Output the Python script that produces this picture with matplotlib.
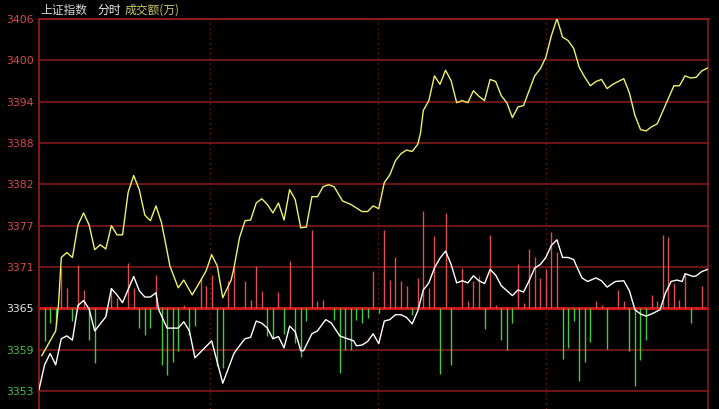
import numpy as np
import matplotlib
matplotlib.use("Agg")
import matplotlib.pyplot as plt

plt.rcParams['font.family'] = ['Noto Sans CJK SC', 'DejaVu Sans']

# grid levels (price) and their labels
prev_close = 3365.0
step = 5.85
grid_labels = ["3353", "3359", "3365", "3371", "3377", "3382", "3388", "3394", "3400", "3406"]

# index line (yellow): minute, price
idx_min = [1, 6, 7, 8, 10, 12, 14, 16, 18, 20, 22, 24, 26, 28, 30, 32, 34, 36, 38, 40,
           42, 44, 46, 47, 50, 52, 55, 58, 60, 62, 64, 66, 69, 70, 72, 74, 76, 78, 80, 82,
           84, 86, 88, 90, 92, 94, 96, 98, 100, 102, 104, 106, 109, 112, 114, 116, 118, 120, 122, 124,
           126, 128, 130, 132, 134, 136, 137, 138, 140, 142, 144, 146, 148, 150, 152, 154, 156, 158, 160, 162,
           164, 166, 168, 170, 172, 174, 176, 178, 180, 182, 184, 186, 188, 190, 192, 194, 196, 198, 200, 202,
           204, 206, 210, 212, 214, 216, 218, 220, 222, 225, 228, 230, 232, 234, 236, 238, 240]
idx_val = [3358.3, 3361.8, 3365.5, 3372.2, 3372.9, 3372.2, 3376.8, 3378.5, 3376.8, 3373.3,
           3374.0, 3373.4, 3376.7, 3375.4, 3375.4, 3381.4, 3383.8, 3381.8, 3378.2, 3377.4,
           3379.5, 3377.1, 3373.1, 3371.0, 3367.9, 3369.0, 3366.9, 3368.9, 3370.3, 3372.6,
           3371.0, 3366.5, 3369.0, 3370.7, 3375.0, 3377.4, 3377.5, 3379.9, 3380.5, 3379.7,
           3378.5, 3379.9, 3377.5, 3381.8, 3380.4, 3376.4, 3376.5, 3380.8, 3380.8, 3382.2,
           3382.5, 3382.2, 3380.2, 3379.7, 3379.2, 3378.7, 3378.7, 3379.5, 3379.1, 3382.8,
           3383.9, 3385.9, 3386.9, 3387.4, 3387.2, 3388.2, 3389.8, 3393.0, 3394.4, 3397.9,
           3396.7, 3398.7, 3397.2, 3394.1, 3394.4, 3394.1, 3395.8, 3395.0, 3394.4, 3397.4,
           3397.1, 3395.1, 3394.1, 3392.0, 3393.5, 3393.7, 3395.8, 3397.9, 3398.9, 3400.5,
           3403.6, 3406.0, 3403.4, 3402.9, 3401.8, 3399.1, 3397.7, 3396.5, 3397.1, 3397.4,
           3396.1, 3396.7, 3397.5, 3395.5, 3392.3, 3390.3, 3390.1, 3390.7, 3391.1, 3393.8,
           3396.5, 3396.5, 3397.9, 3397.6, 3397.7, 3398.6, 3399.0]

# average line (white): minute, price
avg_min = [0, 2, 4, 6, 8, 10, 12, 14, 16, 18, 20, 24, 26, 28, 30, 34, 36, 38, 40, 42,
           43, 46, 50, 52, 54, 56, 62, 66, 70, 72, 74, 76, 78, 80, 82, 84, 86, 88, 90, 92,
           94, 95, 98, 100, 102, 103, 105, 108, 110, 113, 114, 116, 118, 120, 122, 124, 126, 128, 130, 132,
           134, 136, 138, 140, 142, 144, 146, 148, 150, 152, 154, 156, 158, 160, 162, 164, 166, 168, 170, 172,
           174, 176, 178, 180, 182, 184, 186, 188, 190, 192, 193, 195, 197, 200, 202, 204, 207, 210, 212, 214,
           216, 218, 220, 223, 225, 227, 229, 231, 232, 235, 236, 238, 240]
avg_val = [3353.5, 3357.0, 3358.6, 3357.0, 3360.7, 3361.1, 3360.5, 3365.4, 3366.1, 3364.9,
           3361.8, 3363.8, 3367.8, 3366.9, 3365.8, 3369.5, 3367.5, 3366.6, 3366.6, 3367.2,
           3364.8, 3362.2, 3362.2, 3363.1, 3361.8, 3358.0, 3360.4, 3354.4, 3358.6, 3359.7,
           3360.7, 3360.9, 3363.2, 3362.9, 3362.2, 3360.7, 3361.0, 3359.4, 3362.5, 3361.7,
           3359.0, 3359.0, 3361.4, 3361.8, 3362.9, 3363.4, 3362.9, 3361.1, 3360.8, 3360.4,
           3359.7, 3359.8, 3360.3, 3361.4, 3360.0, 3363.2, 3363.4, 3364.1, 3364.1, 3363.7,
           3362.8, 3364.6, 3367.6, 3368.6, 3370.7, 3372.1, 3373.1, 3371.2, 3368.6, 3368.9,
           3368.6, 3369.6, 3368.9, 3368.5, 3370.5, 3369.7, 3368.2, 3367.5, 3366.8, 3367.6,
           3367.3, 3368.9, 3370.7, 3371.2, 3372.2, 3373.9, 3374.7, 3372.2, 3372.2, 3371.9,
           3371.0, 3369.3, 3368.8, 3369.3, 3368.9, 3368.0, 3368.8, 3368.9, 3367.5, 3364.8,
           3364.2, 3363.9, 3364.2, 3364.8, 3367.2, 3368.8, 3369.0, 3368.8, 3369.9, 3369.5,
           3369.6, 3370.2, 3370.5]

# bars above / below the zero line (in price units away from prev close)
up_min = [8, 10, 14, 16, 26, 28, 32, 34, 42, 52, 58, 60, 62, 68, 70, 74, 76, 78, 80, 86,
          90, 98, 100, 102, 120, 124, 126, 128, 130, 132, 136, 138, 140, 142, 146, 152, 154, 156, 158, 162,
          164, 172, 174, 176, 178, 180, 182, 184, 186, 200, 202, 208, 210, 220, 222, 224, 226, 228, 230, 232,
          236, 238]
up_val = [5.7, 2.9, 6.2, 2.6, 2.9, 1.5, 6.4, 2.9, 4.7, 0.5, 4.3, 3.2, 4.7, 3.9, 5.7, 3.8, 1.2, 6.0, 2.5, 2.3,
          6.7, 11.1, 1.1, 1.2, 5.3, 11.1, 4.0, 7.2, 3.8, 3.2, 4.3, 13.8, 2.9, 10.3, 13.5, 5.7, 1.1, 3.9, 4.6, 10.4,
          0.5, 6.3, 0.8, 8.4, 7.2, 4.3, 5.5, 10.8, 8.0, 1.1, 0.4, 2.6, 1.1, 1.9, 1.1, 10.4, 10.1, 3.6, 1.2, 5.0,
          0.2, 3.2]
dn_min = [2, 4, 6, 12, 18, 20, 24, 36, 38, 40, 44, 46, 48, 50, 54, 56, 64, 66, 82, 84,
          88, 92, 94, 96, 106, 108, 110, 112, 114, 116, 118, 122, 134, 144, 148, 160, 166, 168, 170, 188,
          190, 192, 194, 196, 198, 204, 212, 214, 216, 218, 234]
dn_val = [4.6, 2.1, 2.3, 1.8, 4.5, 7.7, 0.9, 2.8, 3.8, 2.8, 8.0, 9.4, 7.6, 6.0, 3.8, 2.5, 8.1, 8.4, 3.9, 4.3,
          3.6, 4.9, 6.9, 1.8, 1.6, 9.1, 5.9, 5.9, 1.6, 2.1, 1.3, 0.6, 0.9, 9.3, 8.0, 2.9, 4.5, 5.9, 2.1, 7.2,
          5.6, 1.8, 10.3, 7.6, 4.7, 5.7, 6.0, 11.0, 7.3, 4.5, 2.1]

grid_vals = [prev_close + (i - 2) * step for i in range(len(grid_labels))]

fig = plt.figure(figsize=(7.19, 4.10), dpi=100, facecolor='black')
ax = fig.add_axes([39 / 719, 0, 670 / 719, 390 / 410], facecolor='black')

grid_red = '#8c1c1c'
for v in grid_vals:
    if v == prev_close:
        ax.axhline(v, color='#d01818', lw=2.2, zorder=1)
    else:
        ax.axhline(v, color=grid_red, lw=1.1, zorder=1)
for m in [61.3, 121.6, 182.2]:
    ax.axvline(m, color=grid_red, lw=0.9, ls=(0, (1, 3)), zorder=1)
ax.axvline(240.3, color=grid_red, lw=1.1, zorder=1)

ax.vlines(up_min, prev_close, prev_close + np.array(up_val), color='#dc5050', lw=1.0, zorder=2)
ax.vlines(dn_min, prev_close, prev_close - np.array(dn_val), color='#44c844', lw=1.0, zorder=2)

ax.plot(idx_min, idx_val, color='#f0f06a', lw=1.0, zorder=3)
ax.plot(avg_min, avg_val, color='white', lw=1.0, zorder=3)

ax.set_xlim(0, 240.6)
px = step / 41.3
ax.set_ylim(grid_vals[0] - 18 * px, grid_vals[-1])
ax.set_xticks([])
ax.set_yticks([])
for s in ['bottom', 'right']:
    ax.spines[s].set_visible(False)
for s in ['left', 'top']:
    ax.spines[s].set_color('#a01c1c')
    ax.spines[s].set_linewidth(1.2)

for v, lab in zip(grid_vals, grid_labels):
    if v > prev_close + 0.1:
        c = '#d84848'
    elif v < prev_close - 0.1:
        c = '#48c048'
    else:
        c = '#e8e8e8'
    ax.annotate(lab, xy=(0, v), xycoords=('axes fraction', 'data'), xytext=(-3.6, 0),
                textcoords='offset points', ha='right', va='center',
                color=c, fontsize=7.8, family=['DejaVu Sans'])

fig.text(40 / 719, 1 - 10 / 410, "上证指数", color='#d8d8d8', fontsize=8.5, ha='left', va='center')
fig.text(97 / 719, 1 - 10 / 410, "分时", color='#f0f0f0', fontsize=8.5, ha='left', va='center')
fig.text(125 / 719, 1 - 10 / 410, "成交额(万)", color='#c8c86a', fontsize=8.5, ha='left', va='center')

fig.savefig('out.png', dpi=100, facecolor='black')
